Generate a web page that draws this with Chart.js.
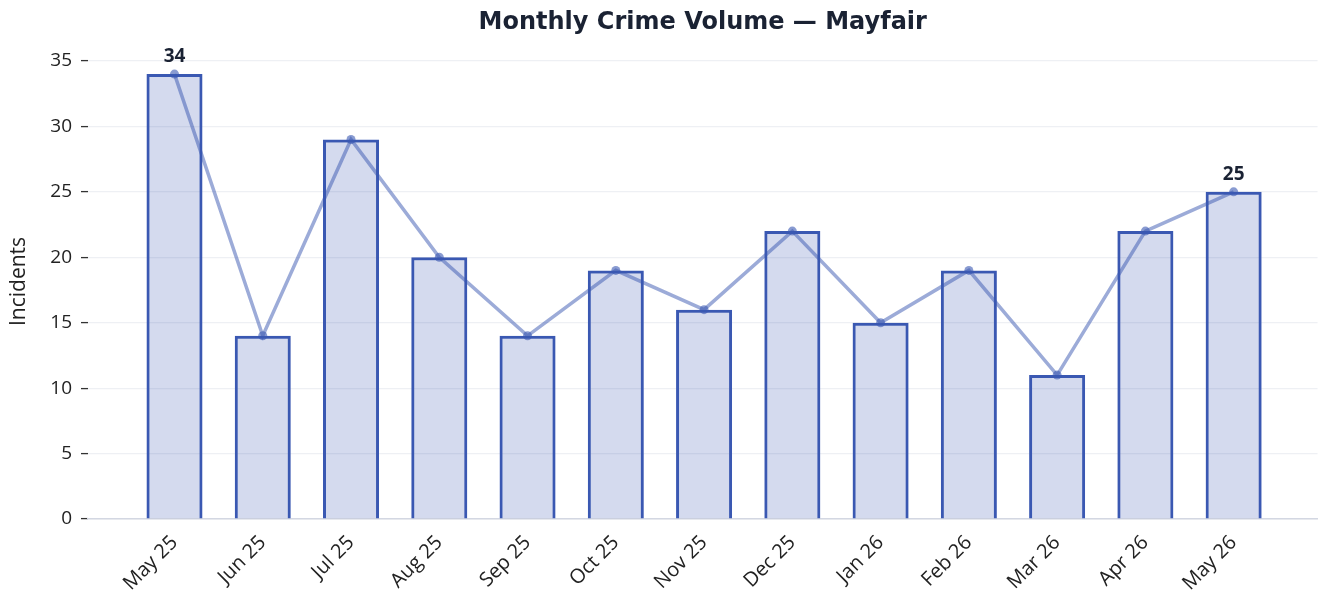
<!DOCTYPE html>
<html>
<head>
<meta charset="utf-8">
<script src="https://cdn.jsdelivr.net/npm/chart.js@4.4.1/dist/chart.umd.min.js"></script>
<style>
  html, body { margin: 0; padding: 0; background: #fff; }
  #wrap { width: 1322px; height: 591px; }
</style>
</head>
<body>
<div id="wrap"><canvas id="grafikKejahatan"></canvas></div>
<script>
// data
const bulan = ['May 25', 'Jun 25', 'Jul 25', 'Aug 25', 'Sep 25', 'Oct 25', 'Nov 25',
  'Dec 25', 'Jan 26', 'Feb 26', 'Mar 26', 'Apr 26', 'May 26'];
const insiden = [34, 14, 29, 20, 14, 19, 16, 22, 15, 19, 11, 22, 25];
const yTicks = [0, 5, 10, 15, 20, 25, 30, 35];
const labelIdx = [0, insiden.length - 1]; // bars that get a value label
const judul = 'Monthly Crime Volume — Mayfair';

const FONT_TICK = 'Open Sans';
const FONT_TITLE = 'DejaVu Sans';
const biru = '#3a58b2';

// title centred over the plot area + value labels above first & last bar
const labelNilai = {
  id: 'labelNilai',
  afterDraw(chart) {
    const ctx = chart.ctx;
    const area = chart.chartArea;
    ctx.save();
    ctx.font = 'bold 24px "' + FONT_TITLE + '"';
    ctx.fillStyle = '#1a2233';
    ctx.textAlign = 'center';
    ctx.textBaseline = 'middle';
    ctx.fillText(judul, (area.left + area.right) / 2, 23);

    const meta = chart.getDatasetMeta(1);
    ctx.font = 'bold 19px "' + FONT_TICK + '"';
    ctx.textBaseline = 'bottom';
    labelIdx.forEach(i => {
      const el = meta.data[i];
      ctx.fillText(String(insiden[i]), el.x, el.y - 8);
    });
    ctx.restore();
  }
};

const pts = insiden.map((v, i) => ({ x: i, y: v }));

const data = {
  datasets: [
    {
      type: 'line',
      data: pts,
      borderColor: 'rgba(58, 88, 178, 0.5)',
      backgroundColor: 'rgba(58, 88, 178, 0.6)',
      borderWidth: 3.5,
      pointRadius: 4.5,
      pointBorderWidth: 0,
      tension: 0,
      order: 0,
    },
    {
      type: 'bar',
      data: pts,
      backgroundColor: 'rgba(58, 88, 178, 0.22)',
      borderColor: biru,
      borderWidth: 3,
      categoryPercentage: 1,
      barPercentage: 0.635,
      order: 1,
    }
  ]
};

const config = {
  data,
  options: {
    responsive: true,
    maintainAspectRatio: false,
    animation: false,
    layout: { padding: { top: 44, right: 4, left: 0, bottom: 0 } },
    scales: {
      x: {
        type: 'linear',
        offset: false,
        min: -0.98,
        max: 12.95,
        afterBuildTicks(axis) {
          axis.ticks = bulan.map((_, i) => ({ value: i }));
        },
        afterFit(axis) { axis.height = 72; },
        grid: { display: false, drawTicks: false, offset: false },
        border: { display: true, color: '#d3d7e2', width: 1.5 },
        ticks: {
          autoSkip: false,
          minRotation: 45,
          maxRotation: 45,
          padding: 12,
          color: '#222',
          font: { family: FONT_TICK, size: 20 },
          callback: (v) => bulan[v] ?? ''
        }
      },
      y: {
        min: 0,
        max: 36.3,
        afterBuildTicks(axis) {
          axis.ticks = yTicks.map(v => ({ value: v }));
        },
        afterFit(axis) { axis.width = 88; },
        grid: {
          color: '#eef0f4',
          lineWidth: 1.2,
          drawTicks: true,
          tickLength: 7,
          tickColor: '#333',
          tickWidth: 1.3
        },
        border: { display: false },
        ticks: {
          padding: 9,
          color: '#222',
          font: { family: FONT_TICK, size: 19 }
        },
        title: {
          display: true,
          text: 'Incidents',
          color: '#222',
          padding: { top: 6, bottom: 0 },
          font: { family: FONT_TICK, size: 21 }
        }
      }
    },
    plugins: {
      legend: { display: false },
      tooltip: { enabled: false },
      title: { display: false }
    }
  },
  plugins: [labelNilai]
};

const myChart = new Chart(document.getElementById('grafikKejahatan'), config);
</script>
</body>
</html>
